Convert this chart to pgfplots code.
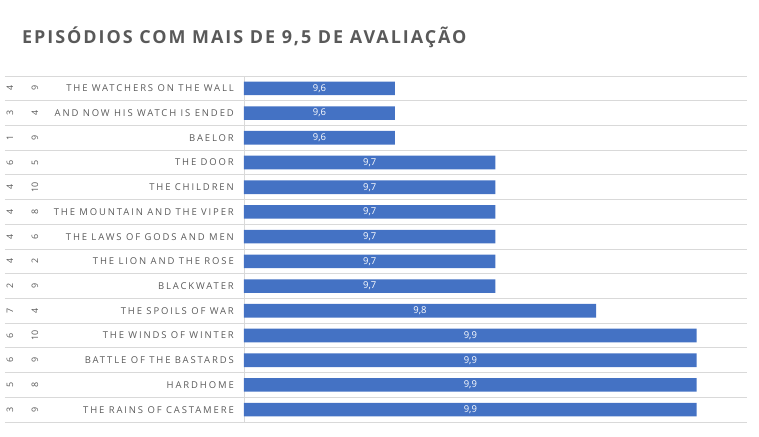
\documentclass[border=0pt]{standalone}
\usepackage{pgfplots}
\pgfplotsset{compat=1.18}
\usepackage{pgfplotstable}
\usepackage{fontspec}
\setmainfont{Open Sans}
\newfontfamily\titlefont[LetterSpace=11]{Open Sans}
\newfontfamily\lblfont[LetterSpace=20]{Open Sans}
\definecolor{barblue}{HTML}{4472C4}
\definecolor{txtgray}{HTML}{595959}
\definecolor{gridgray}{HTML}{D9D9D9}
\pgfplotstableread{
row season ep title v
0 4 9 {THE WATCHERS ON THE WALL} 9.6
1 3 4 {AND NOW HIS WATCH IS ENDED} 9.6
2 1 9 {BAELOR} 9.6
3 6 5 {THE DOOR} 9.7
4 4 10 {THE CHILDREN} 9.7
5 4 8 {THE MOUNTAIN AND THE VIPER} 9.7
6 4 6 {THE LAWS OF GODS AND MEN} 9.7
7 4 2 {THE LION AND THE ROSE} 9.7
8 2 9 {BLACKWATER} 9.7
9 7 4 {THE SPOILS OF WAR} 9.8
10 6 10 {THE WINDS OF WINTER} 9.9
11 6 9 {BATTLE OF THE BASTARDS} 9.9
12 5 8 {HARDHOME} 9.9
13 3 9 {THE RAINS OF CASTAMERE} 9.9
}\data
\begin{document}
\begin{tikzpicture}
\useasboundingbox (-244bp,-15bp) rectangle (515bp,422bp);
\begin{axis}[
  scale only axis, width=503bp, height=346bp,
  at={(0,0)}, anchor=south west,
  xmin=0, xmax=0.5,
  ymin=-0.5, ymax=13.5, y dir=reverse,
  axis x line=none,
  axis y line*=left,
  y axis line style={draw=gridgray, line width=0.8pt},
  ytick=data,
  yticklabels from table={\data}{title},
  major tick length=0pt,
  yticklabel style={font=\lblfont\fontsize{9.5}{10}\selectfont, text=txtgray, anchor=east, inner sep=0pt},
  yticklabel shift=10bp,
  extra y ticks={-0.5,0.5,1.5,2.5,3.5,4.5,5.5,6.5,7.5,8.5,9.5,10.5,11.5,12.5,13.5},
  extra y tick labels={},
  extra y tick style={grid=major, major grid style={draw=gridgray, line width=0.8pt},
     tick style={draw=gridgray, line width=0.8pt}, major tick length=239bp, tick align=outside},
  clip=false,
]
% bars drawn from 9.45 (left edge of the plot area)
\addplot[xbar, bar width=0.55, fill=barblue, draw=none] table[x expr=\thisrow{v}-9.45, y=row] {\data};
\addplot[draw=none, mark=none, nodes near coords, point meta=\thisrow{v},
  nodes near coords style={anchor=center, text=white, font=\fontsize{9.5}{10}\selectfont,
    /pgf/number format/.cd, use comma, fixed, fixed zerofill, precision=1, assume math mode=true}]
  table[x expr=(\thisrow{v}-9.45)/2, y=row] {\data};
\addplot[draw=none, mark=none, nodes near coords, point meta=explicit symbolic,
  nodes near coords style={anchor=center, text=txtgray, font=\fontsize{9}{9}\selectfont, xshift=-234bp, rotate=90}]
  table[x expr=0, y=row, meta=season] {\data};
\addplot[draw=none, mark=none, nodes near coords, point meta=explicit symbolic,
  nodes near coords style={anchor=center, text=txtgray, font=\fontsize{9}{9}\selectfont, xshift=-209bp, rotate=90}]
  table[x expr=0, y=row, meta=ep] {\data};
\end{axis}
\node[anchor=base west, inner sep=0pt, text=txtgray, font=\titlefont\bfseries\fontsize{18}{20}\selectfont] at (-222bp,378bp) {EPISÓDIOS COM MAIS DE 9,5 DE AVALIAÇÃO};
\end{tikzpicture}
\end{document}
